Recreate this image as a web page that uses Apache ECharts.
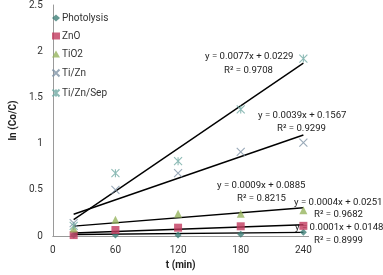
<!DOCTYPE html>
<html><head><meta charset="utf-8">
<script src="https://cdn.jsdelivr.net/npm/echarts@6/dist/echarts.min.js"></script>
<style>html,body{margin:0;padding:0;background:#fff}#c{width:383px;height:275px}</style>
</head><body><div id="c"></div>
<script>
const times = [20, 60, 120, 180, 240];
const photolysis = [0.01, 0.01, 0.01, 0.02, 0.04];
const zno = [0.01, 0.065, 0.09, 0.105, 0.11];
const tio2 = [0.08, 0.175, 0.24, 0.24, 0.28];
const tizn = [0.14, 0.50, 0.68, 0.91, 1.01];
const tiznsep = [0.11, 0.68, 0.81, 1.37, 1.92];
const trendT = [20, 240];
const trendPhotolysis = [0.017, 0.039];
const trendZnO = [0.033, 0.121];
const trendTiO2 = [0.107, 0.305];
const trendTiZn = [0.235, 1.093];
const trendTiZnSep = [0.177, 1.871];
const xTicks = [0, 60, 120, 180, 240];
const yTicks = [0, 0.5, 1, 1.5, 2, 2.5];
const names = ['Photolysis', 'ZnO', 'TiO2', 'Ti/Zn', 'Ti/Zn/Sep'];
const eqLabels = [
  ['y = 0.0077x + 0.0229', 'R² = 0.9708'],
  ['y = 0.0039x + 0.1567', 'R² = 0.9299'],
  ['y = 0.0009x + 0.0885', 'R² = 0.8215'],
  ['y = 0.0004x + 0.0251', 'R² = 0.9682'],
  ['y = 0.0001x + 0.0148', 'R² = 0.8999']
];

const pair = (xs, ys) => xs.map((x, i) => [x, ys[i]]);
const FONT = 'Roboto, "Liberation Sans", sans-serif';
const xPath = 'path://M0,0L10,10M10,0L0,10';
const astPath = 'path://M0,0L10,10M10,0L0,10M5,0L5,10';

function sc(name, data, symbol, color, size, line) {
  return {
    name, type: 'scatter', data, symbol, symbolSize: size, z: 3,
    itemStyle: line ? {color: 'none', borderColor: color, borderWidth: 1.1} : {color}
  };
}
function tr(data) {
  return {type: 'line', data, symbol: 'none', silent: true, z: 2,
    lineStyle: {color: '#000', width: 1.4}};
}

const chart = echarts.init(document.getElementById('c'));
const txt = (x, y, t, align) => ({type: 'text', left: x, top: y,
  style: {text: t, fill: '#222', font: '9.6px ' + FONT, textAlign: align || 'left'}});
chart.setOption({
  animation: false,
  grid: {left: 36, top: 5, width: 272.6, height: 234},
  xAxis: {
    type: 'value', min: 0, max: 245, interval: 60,
    name: 't (min)', nameLocation: 'middle', nameGap: 24,
    nameTextStyle: {fontWeight: 'bold', fontSize: 10, fontFamily: FONT, color: '#222'},
    axisLine: {lineStyle: {color: '#9a9a9a'}}, axisTick: {show: false},
    axisLabel: {fontSize: 10, fontFamily: FONT, color: '#333', margin: 9, showMaxLabel: false,
      formatter: v => xTicks.includes(v) ? String(v) : ''},
    splitLine: {show: false}
  },
  yAxis: {
    type: 'value', min: 0, max: 2.5, interval: 0.5,
    name: 'ln (Co/C)', nameLocation: 'middle', nameGap: 26, nameRotate: 90,
    nameTextStyle: {fontWeight: 'bold', fontSize: 10, fontFamily: FONT, color: '#222'},
    axisLine: {show: true, lineStyle: {color: '#9a9a9a'}}, axisTick: {show: false},
    axisLabel: {fontSize: 10, fontFamily: FONT, color: '#333', margin: 10,
      formatter: v => yTicks.includes(v) ? String(v) : ''},
    splitLine: {show: false}
  },
  legend: {
    orient: 'vertical', left: 45, top: 8, itemGap: 8, itemWidth: 8, itemHeight: 7,
    data: names,
    textStyle: {fontSize: 10, fontFamily: FONT, color: '#333', padding: [0, 0, 0, -3]}
  },
  series: [
    sc(names[0], pair(times, photolysis), 'diamond', '#3f7f78', 7),
    sc(names[1], pair(times, zno), 'rect', '#c23a5e', 8),
    sc(names[2], pair(times, tio2), 'triangle', '#96b45e', 8),
    sc(names[3], pair(times, tizn), xPath, '#7f93a6', 8, true),
    sc(names[4], pair(times, tiznsep), astPath, '#70aaa4', 8, true),
    tr(pair(trendT, trendPhotolysis)),
    tr(pair(trendT, trendZnO)),
    tr(pair(trendT, trendTiO2)),
    tr(pair(trendT, trendTiZn)),
    tr(pair(trendT, trendTiZnSep))
  ],
  graphic: [
    txt(205, 52, eqLabels[0][0]), txt(224, 66, eqLabels[0][1]),
    txt(258, 111, eqLabels[1][0]), txt(277, 124, eqLabels[1][1]),
    txt(217, 181, eqLabels[2][0]), txt(237, 194, eqLabels[2][1]),
    txt(294, 198, eqLabels[3][0]), txt(314, 210, eqLabels[3][1]),
    txt(295, 223, eqLabels[4][0]), txt(314, 236, eqLabels[4][1])
  ]
});
</script></body></html>
